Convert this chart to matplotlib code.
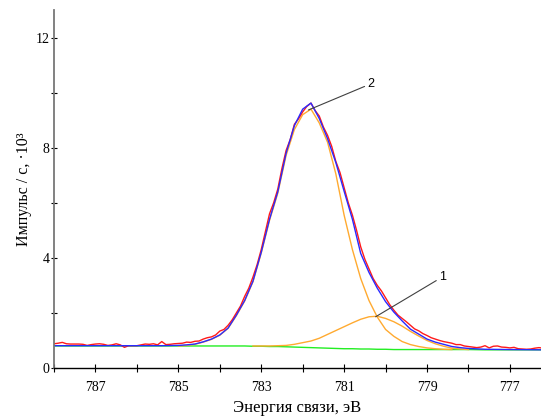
import numpy as np
import matplotlib.pyplot as plt
from matplotlib.ticker import MultipleLocator

# experimental spectrum, 0.1 eV step from 788.0 down to 776.2 eV
energy = np.linspace(788.0, 776.2, 119)
counts = [0.88, 0.90, 0.93, 0.88, 0.87, 0.87, 0.87, 0.86, 0.82, 0.85,
          0.87, 0.88, 0.86, 0.82, 0.84, 0.88, 0.84, 0.75, 0.81, 0.81,
          0.81, 0.84, 0.87, 0.86, 0.88, 0.84, 0.96, 0.85, 0.86, 0.88,
          0.89,
          0.90, 0.94, 0.93, 0.97, 0.98, 1.05, 1.10, 1.13, 1.20, 1.34,
          1.40, 1.55, 1.75, 2.00, 2.25, 2.60, 2.90, 3.30, 3.75, 4.30,
          4.95, 5.60, 6.00, 6.50, 7.25, 7.90, 8.30, 8.85, 9.05, 9.30,
          9.50, 9.62, 9.35, 9.15, 8.75, 8.45, 8.05, 7.50, 7.10, 6.55,
          6.00, 5.55, 5.00, 4.40, 3.95, 3.60, 3.25, 3.00, 2.80, 2.55,
          2.30, 2.10, 1.92, 1.80, 1.68, 1.55, 1.42, 1.35, 1.25, 1.18,
          1.10, 1.05, 1.00, 0.96, 0.93, 0.90, 0.85, 0.85, 0.80, 0.78,
          0.76, 0.74, 0.76, 0.81, 0.73, 0.79, 0.80, 0.76, 0.75, 0.73,
          0.75, 0.70, 0.69, 0.68, 0.69, 0.72, 0.74, 0.72]

# fitted curves
fit_energy = [788.0, 786.0, 785.4, 785.0, 784.8, 784.6, 784.4, 784.2, 784.0, 783.8,
              783.6, 783.4, 783.2, 783.0, 782.8, 782.6, 782.4, 782.2, 782.0, 781.8,
              781.6, 781.4, 781.2, 781.0, 780.8, 780.6, 780.4, 780.2, 780.0, 779.8,
              779.6, 779.4, 779.2, 779.0, 778.8, 778.6, 778.4, 778.2, 778.0, 777.6,
              777.0, 776.2]
envelope = [0.81, 0.81, 0.81, 0.82, 0.84, 0.87, 0.95, 1.05, 1.20, 1.45,
            1.92, 2.45, 3.15, 4.20, 5.40, 6.40, 7.80, 8.80, 9.40, 9.62,
            9.06, 8.33, 7.46, 6.42, 5.40, 4.16, 3.47, 2.90, 2.41, 2.03,
            1.71, 1.41, 1.23, 1.05, 0.94, 0.86, 0.78, 0.74, 0.71, 0.68,
            0.67, 0.66]
nan = np.nan
peak_2 = [nan, nan, nan, 0.80, 0.82, 0.86, 0.94, 1.04, 1.19, 1.44,
          1.90, 2.43, 3.13, 4.17, 5.36, 6.35, 7.72, 8.66, 9.20, 9.40,
          8.90, 8.20, 7.05, 5.55, 4.30, 3.25, 2.45, 1.85, 1.40, 1.15,
          0.96, 0.85, 0.78, 0.73, 0.70, 0.68, 0.67, nan, nan, nan,
          nan, nan]
peak_1 = [nan, nan, nan, nan, nan, nan, nan, nan, nan, nan,
          nan, nan, 0.80, 0.80, 0.80, 0.81, 0.82, 0.86, 0.92, 0.98,
          1.08, 1.22, 1.36, 1.50, 1.64, 1.77, 1.86, 1.88, 1.80, 1.68,
          1.52, 1.33, 1.16, 1.00, 0.88, 0.79, 0.72, 0.69, 0.67, nan,
          nan, nan]
background = [0.80, 0.80, 0.80, 0.80, 0.80, 0.80, 0.80, 0.80, 0.80, 0.80,
              0.80, 0.80, 0.79, 0.79, 0.78, 0.78, 0.77, 0.76, 0.75, 0.74,
              0.73, 0.72, 0.71, 0.70, 0.70, 0.69, 0.69, 0.68, 0.68, 0.67,
              0.67, 0.67, 0.67, 0.67, 0.67, 0.67, 0.67, 0.67, 0.67, 0.66,
              0.66, 0.66]

plt.rcParams['font.family'] = ['Liberation Serif', 'DejaVu Serif']

fig = plt.figure(figsize=(5.41, 4.17), dpi=100)
ax = fig.add_axes([0.0998, 0.1175, 0.9002, 0.8585])

ax.plot(fit_energy, background, color='#22ee22', lw=1.0)
ax.plot(fit_energy, peak_1, color='#ffaa30', lw=1.0)
ax.plot(fit_energy, peak_2, color='#ffaa30', lw=1.0)
ax.plot(energy, counts, color='#ff1a1a', lw=1.0)
ax.plot(fit_energy, envelope, color='#2a2aff', lw=1.0)

# peak labels
ax.annotate('2', xy=(781.86, 9.37), xytext=(780.44, 10.32),
            arrowprops=dict(arrowstyle='-', color='#404040', lw=0.8, shrinkA=0, shrinkB=0),
            fontsize=9, family='Liberation Sans', va='center', ha='left')
ax.annotate('1', xy=(780.24, 1.86), xytext=(778.71, 3.31),
            arrowprops=dict(arrowstyle='-', color='#404040', lw=0.8, shrinkA=0, shrinkB=0),
            fontsize=9, family='Liberation Sans', va='center', ha='left')

ax.set_xlim(788.0, 776.25)
ax.set_ylim(0, 13)
ax.xaxis.set_major_locator(MultipleLocator(2, offset=1))
ax.xaxis.set_minor_locator(MultipleLocator(1))
ax.yaxis.set_major_locator(MultipleLocator(4))
ax.yaxis.set_minor_locator(MultipleLocator(2))
ax.tick_params(axis='x', which='both', direction='inout', length=6, width=0.8, labelsize=10, pad=6)
ax.tick_params(axis='y', which='both', direction='inout', length=4, width=0.8, labelsize=10, pad=1)

ax.spines['top'].set_visible(False)
ax.spines['right'].set_visible(False)
ax.spines['left'].set_color('#777777')
ax.spines['left'].set_linewidth(1.3)
ax.spines['bottom'].set_linewidth(1.0)

ax.set_xlabel('Энергия связи, эВ', fontsize=12, labelpad=5)
ax.set_ylabel('Импульс / с, ·10³', fontsize=11.5, labelpad=3)

plt.savefig('out.png', dpi=100)
